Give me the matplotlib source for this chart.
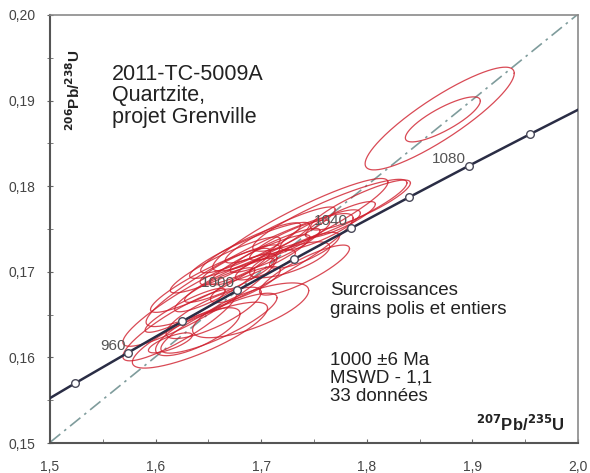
import numpy as np
import matplotlib.pyplot as plt
from matplotlib.ticker import MultipleLocator, FuncFormatter

# concordia tick ages (Ma) and ratios
ages = [920, 940, 960, 980, 1000, 1020, 1040, 1060, 1080, 1100, 1120]
conc_x = [1.4746, 1.5238, 1.5740, 1.6252, 1.6774, 1.7307, 1.7850, 1.8404, 1.8969, 1.9545, 2.0133]
conc_y = [0.15339, 0.15698, 0.16056, 0.16420, 0.16782, 0.17145, 0.17508, 0.17873, 0.18240, 0.18607, 0.18976]
labelled = [960, 1000, 1040, 1080]

# reference line through origin and the 1000 Ma point
ref_x = [1.5, 2.0]
ref_slope = 0.16782 / 1.6774

# error ellipses: centre, half-extent in x and y, correlation
ell_x = [1.737, 1.765, 1.689, 1.642, 1.623, 1.642, 1.690, 1.794, 1.727, 1.713, 1.741,
         1.699, 1.680, 1.670, 1.656, 1.655, 1.628, 1.640, 1.689, 1.718, 1.756, 1.704,
         1.666, 1.652, 1.727, 1.685, 1.741, 1.614, 1.775, 1.690, 1.660, 1.869, 1.872]
ell_y = [0.1755, 0.1766, 0.1702, 0.1667, 0.1638, 0.1626, 0.1655, 0.1778, 0.1737, 0.1725, 0.1725,
         0.1714, 0.1708, 0.1690, 0.1679, 0.1652, 0.1655, 0.1630, 0.1725, 0.1743, 0.1749, 0.1708,
         0.1708, 0.1690, 0.1714, 0.1685, 0.1702, 0.1617, 0.1761, 0.1728, 0.1640, 0.1879, 0.1878]
ell_sx = [0.0830, 0.0730, 0.0980, 0.0730, 0.0540, 0.0640, 0.0550, 0.0473, 0.0379, 0.0426, 0.0331,
          0.0473, 0.0379, 0.0426, 0.0379, 0.0450, 0.0379, 0.0400, 0.0568, 0.0521, 0.0379, 0.0284,
          0.0521, 0.0568, 0.0379, 0.0331, 0.0426, 0.0208, 0.0331, 0.0473, 0.0550, 0.0706, 0.0355]
ell_sy = [0.00540, 0.00420, 0.00660, 0.00540, 0.00420, 0.00385, 0.00320, 0.00292, 0.00234, 0.00257, 0.00210,
          0.00292, 0.00234, 0.00257, 0.00257, 0.00300, 0.00257, 0.00280, 0.00327, 0.00327, 0.00234, 0.00175,
          0.00327, 0.00374, 0.00210, 0.00210, 0.00292, 0.00117, 0.00210, 0.00292, 0.00350, 0.00600, 0.00263]
ell_rho = [0.92, 0.90, 0.92, 0.91, 0.88, 0.82, 0.72, 0.88, 0.88, 0.90, 0.80,
           0.90, 0.86, 0.90, 0.88, 0.80, 0.90, 0.75, 0.91, 0.91, 0.84, 0.80,
           0.91, 0.91, 0.72, 0.80, 0.86, 0.75, 0.86, 0.90, 0.85, 0.88, 0.82]

plt.rcParams['font.family'] = ['Liberation Sans', 'DejaVu Sans']

fig = plt.figure(figsize=(5.9, 4.73), dpi=100)
ax = fig.add_axes([0.0847, 0.0634, 0.895, 0.905])

t = np.linspace(0, 2 * np.pi, 240)
for cx, cy, sx, sy, r in zip(ell_x, ell_y, ell_sx, ell_sy, ell_rho):
    ex = cx + sx * np.cos(t)
    ey = cy + sy * (r * np.cos(t) + np.sqrt(1 - r * r) * np.sin(t))
    ax.plot(ex, ey, color='#cf1d2b', lw=0.9, alpha=0.8, zorder=2)

ax.plot(ref_x, [ref_slope * v for v in ref_x], color='#7f9c9c', lw=1.2,
        ls=(0, (8, 3, 1.5, 3)), zorder=1)

ax.plot(conc_x, conc_y, color='#2a2d45', lw=1.8, zorder=3)
ax.plot(conc_x[1:-1], conc_y[1:-1], ls='none', marker='o', ms=5.5, mfc='white',
        mec='#4a4a5a', mew=1.0, zorder=4)
for a, x, y in zip(ages, conc_x, conc_y):
    if a in labelled:
        ax.annotate(str(a), (x, y), xytext=(-2, 0), textcoords='offset points',
                    ha='right', va='bottom', fontsize=11, color='#555555', zorder=5)

ax.text(0.118, 0.885, "2011-TC-5009A\nQuartzite,\nprojet Grenville", transform=ax.transAxes,
        fontsize=15.5, color='#222222', va='top', ha='left', linespacing=1.02)
ax.text(0.53, 0.375, "Surcroissances\ngrains polis et entiers", transform=ax.transAxes,
        fontsize=13.5, color='#222222', va='top', ha='left', linespacing=1.1)
ax.text(0.53, 0.212, "1000 \u00b16 Ma\nMSWD - 1,1\n33 donn\u00e9es", transform=ax.transAxes,
        fontsize=13.5, color='#222222', va='top', ha='left', linespacing=1.05)
ax.text(0.975, 0.045, r'$^{\mathbf{207}}$Pb/$^{\mathbf{235}}$U', transform=ax.transAxes,
        fontsize=12, fontweight='bold', color='#222222', ha='right', va='center')
ax.text(0.045, 0.825, r'$^{\mathbf{206}}$Pb/$^{\mathbf{238}}$U', transform=ax.transAxes,
        fontsize=11, fontweight='bold', color='#222222', ha='center', va='center', rotation=90)

ax.set_xlim(1.5, 2.0)
ax.set_ylim(0.15, 0.20)
ax.xaxis.set_major_locator(MultipleLocator(0.1))
ax.xaxis.set_minor_locator(MultipleLocator(0.05))
ax.yaxis.set_major_locator(MultipleLocator(0.01))
ax.yaxis.set_minor_locator(MultipleLocator(0.005))
ax.xaxis.set_major_formatter(FuncFormatter(lambda v, p: f"{v:.1f}".replace('.', ',')))
ax.yaxis.set_major_formatter(FuncFormatter(lambda v, p: f"{v:.2f}".replace('.', ',')))
ax.tick_params(axis='x', which='both', direction='in', length=3, color='#666666',
               labelsize=10, labelcolor='#444444', pad=12)
ax.tick_params(axis='y', which='both', direction='inout', length=5, color='#666666',
               labelsize=10, labelcolor='#444444', pad=8)

for s in ['left', 'bottom']:
    ax.spines[s].set_color('#555555')
    ax.spines[s].set_linewidth(1.5)
for s in ['top', 'right']:
    ax.spines[s].set_color('#8a8a8a')
    ax.spines[s].set_linewidth(1.2)

fig.savefig('out.png', dpi=100)
